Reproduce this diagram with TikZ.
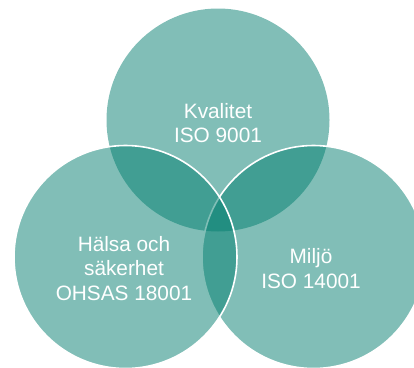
\documentclass[tikz,border=0pt]{standalone}
\usepackage{fontspec}
\setmainfont{Liberation Sans}
\usepackage{tikz}
\definecolor{venngreen}{RGB}{3,126,111}

\begin{document}
\begin{tikzpicture}[x=1pt,y=-1pt,
    krug/.style={circle, minimum size=223pt, inner sep=0pt, fill=venngreen, fill opacity=0.5},
    rub/.style={draw=white, line width=1.6pt},
    tekst/.style={text=white, align=center, font=\fontsize{20.8}{24.5}\selectfont}]
      \useasboundingbox (0,0) rectangle (414,367);
      \clip (0,0) rectangle (414,367);
      \node[krug] (K) at (218,120) {};
      \node[krug,rub] (M) at (313.5,257) {};
      \node[krug,rub] (H) at (125.5,257) {};
      \node[tekst] (KT) at (218,123) {Kvalitet\\ISO 9001};
      \node[tekst] (HT) at (124,268.5) {Hälsa och\\säkerhet\\OHSAS 18001};
      \node[tekst] (MT) at (311,268.5) {Miljö\\ISO 14001};
    \end{tikzpicture}
\end{document}
